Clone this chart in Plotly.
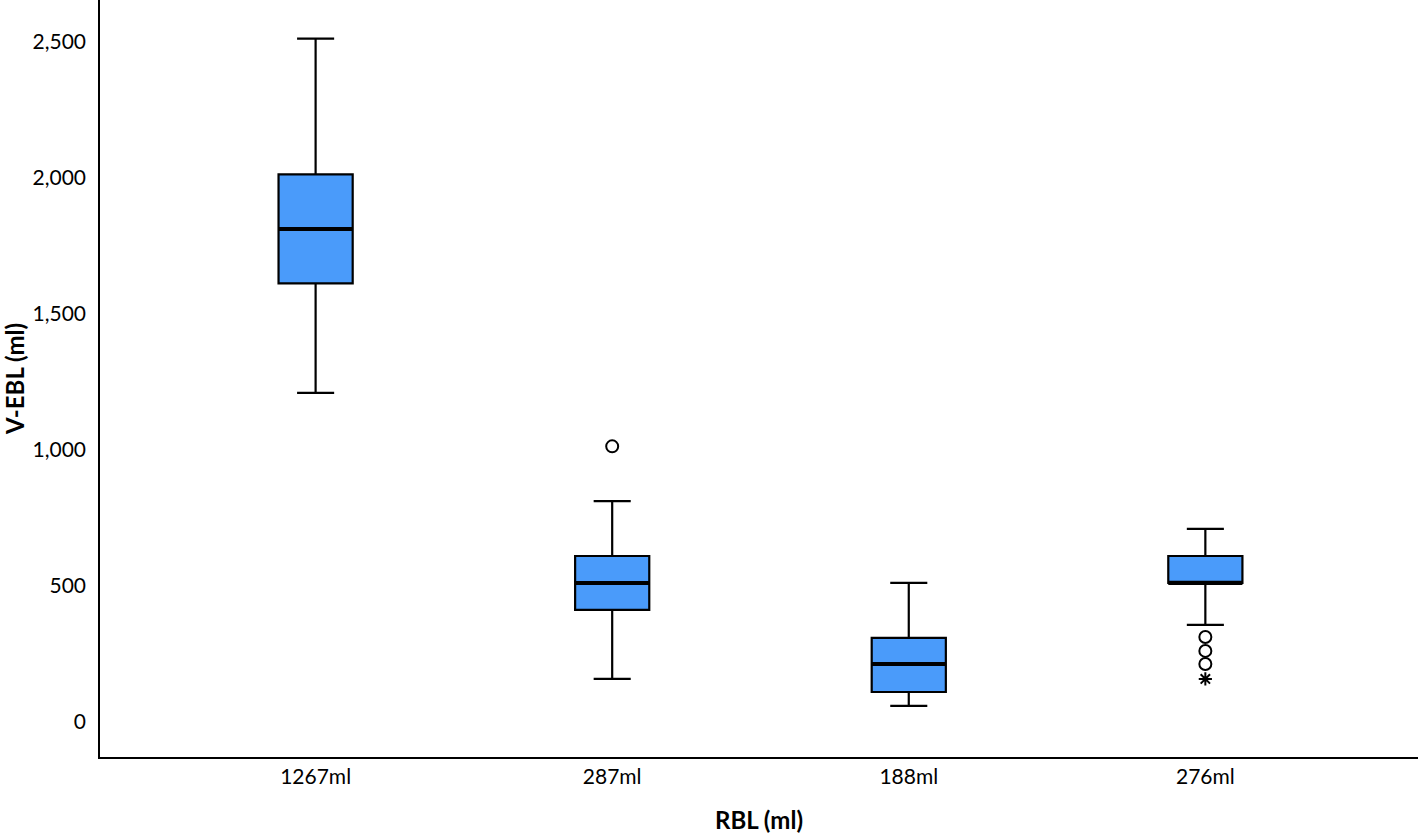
import plotly.graph_objects as go

categories = ["1267ml", "287ml", "188ml", "276ml"]
lower_whisker = [1210, 158, 59, 357]
q1_values = [1612, 412, 110, 511]
medians = [1812, 511, 213, 511]
q3_values = [2013, 610, 309, 610]
upper_whisker = [2512, 812, 511, 710]
outlier_cat = [1, 3, 3, 3]
outlier_vals = [1013, 312, 261, 213]
extreme_cat = [3]
extreme_vals = [158]

BOX_COLOR = "#4A9BFA"
BOX_W = 0.25
FONT = "Lato, 'Open Sans', sans-serif"

fig = go.Figure()
xs = list(range(len(categories)))
fig.add_trace(go.Box(
    x=xs, q1=q1_values, median=medians, q3=q3_values,
    lowerfence=lower_whisker, upperfence=upper_whisker,
    width=BOX_W, whiskerwidth=0.5,
    fillcolor=BOX_COLOR, line=dict(color="black", width=2.2),
    boxpoints=False, showlegend=False, hoverinfo="skip",
))

# thick median lines
mx, my = [], []
for i, m in enumerate(medians):
    mx += [i - BOX_W / 2, i + BOX_W / 2, None]
    my += [m, m, None]
fig.add_trace(go.Scatter(x=mx, y=my, mode="lines",
                         line=dict(color="black", width=4),
                         showlegend=False, hoverinfo="skip"))

fig.add_trace(go.Scatter(x=outlier_cat, y=outlier_vals, mode="markers",
                         marker=dict(symbol="circle-open", size=12,
                                     color="black", line=dict(width=2)),
                         showlegend=False))
fig.add_trace(go.Scatter(x=extreme_cat, y=extreme_vals, mode="markers",
                         marker=dict(symbol="asterisk-open", size=11,
                                     color="black", line=dict(width=2)),
                         showlegend=False))

fig.update_layout(
    width=1418, height=834,
    margin=dict(l=100, r=0, t=0, b=77),
    plot_bgcolor="white", paper_bgcolor="white",
    font=dict(family=FONT, size=21, color="black"),
    xaxis=dict(
        range=[-0.727, 3.717], tickmode="array", tickvals=xs, ticktext=categories,
        showgrid=False, zeroline=False, showline=True, linecolor="black", linewidth=1.5,
        ticks="", tickfont=dict(size=21),
        title=dict(text="<b>RBL (ml)</b>", font=dict(size=24), standoff=26),
    ),
    yaxis=dict(
        range=[-129, 2654], tickvals=[0, 500, 1000, 1500, 2000, 2500],
        tickformat=",d", showgrid=False, zeroline=False,
        showline=True, linecolor="black", linewidth=1.5, ticks="",
        ticklabelstandoff=8, tickfont=dict(size=21),
        title=dict(text="<b>V-EBL (ml)</b>", font=dict(size=24), standoff=8),
    ),
)

fig.write_html("out.html", config={"displayModeBar": False},
               post_script="document.body.style.margin='0';")
